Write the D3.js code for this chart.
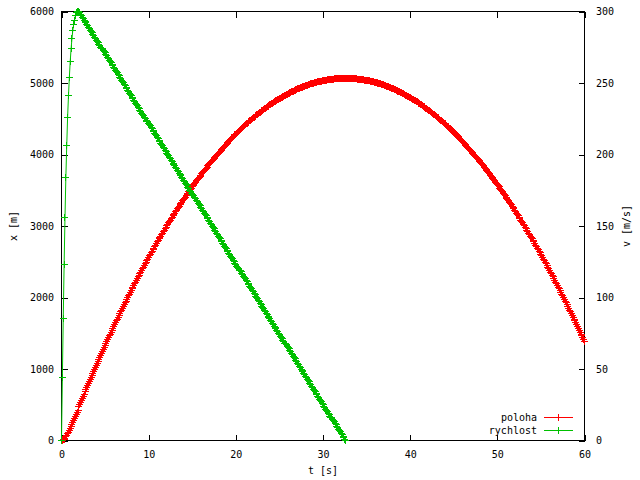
<!DOCTYPE html>
<html><head><meta charset="utf-8">
<script src="https://cdn.jsdelivr.net/npm/d3@7"></script>
<style>
body{margin:0;background:#fff}
svg text{font-family:"DejaVu Sans Mono","Liberation Mono",monospace;font-size:10px;fill:#000}
</style>
</head><body>
<svg id="c" width="640" height="480"></svg>
<script>
// time samples [s]
const time=[0,0.1,0.2,0.3,0.4,0.5,0.6,0.7,0.8,0.9,
1,1.1,1.2,1.3,1.4,1.5,1.6,1.7,1.8,1.9,
2,2.1,2.2,2.3,2.4,2.5,2.6,2.7,2.8,2.9,
3,3.1,3.2,3.3,3.4,3.5,3.6,3.7,3.8,3.9,
4,4.1,4.2,4.3,4.4,4.5,4.6,4.7,4.8,4.9,
5,5.1,5.2,5.3,5.4,5.5,5.6,5.7,5.8,5.9,
6,6.1,6.2,6.3,6.4,6.5,6.6,6.7,6.8,6.9,
7,7.1,7.2,7.3,7.4,7.5,7.6,7.7,7.8,7.9,
8,8.1,8.2,8.3,8.4,8.5,8.6,8.7,8.8,8.9,
9,9.1,9.2,9.3,9.4,9.5,9.6,9.7,9.8,9.9,
10,10.1,10.2,10.3,10.4,10.5,10.6,10.7,10.8,10.9,
11,11.1,11.2,11.3,11.4,11.5,11.6,11.7,11.8,11.9,
12,12.1,12.2,12.3,12.4,12.5,12.6,12.7,12.8,12.9,
13,13.1,13.2,13.3,13.4,13.5,13.6,13.7,13.8,13.9,
14,14.1,14.2,14.3,14.4,14.5,14.6,14.7,14.8,14.9,
15,15.1,15.2,15.3,15.4,15.5,15.6,15.7,15.8,15.9,
16,16.1,16.2,16.3,16.4,16.5,16.6,16.7,16.8,16.9,
17,17.1,17.2,17.3,17.4,17.5,17.6,17.7,17.8,17.9,
18,18.1,18.2,18.3,18.4,18.5,18.6,18.7,18.8,18.9,
19,19.1,19.2,19.3,19.4,19.5,19.6,19.7,19.8,19.9,
20,20.1,20.2,20.3,20.4,20.5,20.6,20.7,20.8,20.9,
21,21.1,21.2,21.3,21.4,21.5,21.6,21.7,21.8,21.9,
22,22.1,22.2,22.3,22.4,22.5,22.6,22.7,22.8,22.9,
23,23.1,23.2,23.3,23.4,23.5,23.6,23.7,23.8,23.9,
24,24.1,24.2,24.3,24.4,24.5,24.6,24.7,24.8,24.9,
25,25.1,25.2,25.3,25.4,25.5,25.6,25.7,25.8,25.9,
26,26.1,26.2,26.3,26.4,26.5,26.6,26.7,26.8,26.9,
27,27.1,27.2,27.3,27.4,27.5,27.6,27.7,27.8,27.9,
28,28.1,28.2,28.3,28.4,28.5,28.6,28.7,28.8,28.9,
29,29.1,29.2,29.3,29.4,29.5,29.6,29.7,29.8,29.9,
30,30.1,30.2,30.3,30.4,30.5,30.6,30.7,30.8,30.9,
31,31.1,31.2,31.3,31.4,31.5,31.6,31.7,31.8,31.9,
32,32.1,32.2,32.3,32.4,32.5,32.6,32.7,32.8,32.9,
33,33.1,33.2,33.3,33.4,33.5,33.6,33.7,33.8,33.9,
34,34.1,34.2,34.3,34.4,34.5,34.6,34.7,34.8,34.9,
35,35.1,35.2,35.3,35.4,35.5,35.6,35.7,35.8,35.9,
36,36.1,36.2,36.3,36.4,36.5,36.6,36.7,36.8,36.9,
37,37.1,37.2,37.3,37.4,37.5,37.6,37.7,37.8,37.9,
38,38.1,38.2,38.3,38.4,38.5,38.6,38.7,38.8,38.9,
39,39.1,39.2,39.3,39.4,39.5,39.6,39.7,39.8,39.9,
40,40.1,40.2,40.3,40.4,40.5,40.6,40.7,40.8,40.9,
41,41.1,41.2,41.3,41.4,41.5,41.6,41.7,41.8,41.9,
42,42.1,42.2,42.3,42.4,42.5,42.6,42.7,42.8,42.9,
43,43.1,43.2,43.3,43.4,43.5,43.6,43.7,43.8,43.9,
44,44.1,44.2,44.3,44.4,44.5,44.6,44.7,44.8,44.9,
45,45.1,45.2,45.3,45.4,45.5,45.6,45.7,45.8,45.9,
46,46.1,46.2,46.3,46.4,46.5,46.6,46.7,46.8,46.9,
47,47.1,47.2,47.3,47.4,47.5,47.6,47.7,47.8,47.9,
48,48.1,48.2,48.3,48.4,48.5,48.6,48.7,48.8,48.9,
49,49.1,49.2,49.3,49.4,49.5,49.6,49.7,49.8,49.9,
50,50.1,50.2,50.3,50.4,50.5,50.6,50.7,50.8,50.9,
51,51.1,51.2,51.3,51.4,51.5,51.6,51.7,51.8,51.9,
52,52.1,52.2,52.3,52.4,52.5,52.6,52.7,52.8,52.9,
53,53.1,53.2,53.3,53.4,53.5,53.6,53.7,53.8,53.9,
54,54.1,54.2,54.3,54.4,54.5,54.6,54.7,54.8,54.9,
55,55.1,55.2,55.3,55.4,55.5,55.6,55.7,55.8,55.9,
56,56.1,56.2,56.3,56.4,56.5,56.6,56.7,56.8,56.9,
57,57.1,57.2,57.3,57.4,57.5,57.6,57.7,57.8,57.9,
58,58.1,58.2,58.3,58.4,58.5,58.6,58.7,58.8,58.9,
59,59.1,59.2,59.3,59.4,59.5,59.6,59.7,59.8,59.9,
60];
// position x [m]
const poloha=[0,2,9,19,33,50,70,91,114,139,
165,192,220,248,277,306,336,366,396,426,
472,502,532,562,591,621,650,680,709,738,
767,796,825,854,883,911,940,968,997,1025,
1053,1081,1109,1137,1164,1192,1219,1247,1274,1301,
1329,1356,1383,1409,1436,1463,1489,1516,1542,1568,
1594,1620,1646,1672,1698,1724,1749,1775,1800,1825,
1850,1876,1900,1925,1950,1975,1999,2024,2048,2073,
2097,2121,2145,2169,2192,2216,2240,2263,2287,2310,
2333,2356,2379,2402,2425,2448,2470,2493,2515,2538,
2560,2582,2604,2626,2648,2669,2691,2713,2734,2755,
2777,2798,2819,2840,2860,2881,2902,2922,2943,2963,
2984,3004,3024,3044,3064,3083,3103,3123,3142,3161,
3181,3200,3219,3238,3257,3276,3294,3313,3331,3350,
3368,3386,3404,3422,3440,3458,3476,3493,3511,3528,
3546,3563,3580,3597,3614,3631,3647,3664,3681,3697,
3713,3730,3746,3762,3778,3794,3809,3825,3841,3856,
3871,3887,3902,3917,3932,3947,3961,3976,3991,4005,
4019,4034,4048,4062,4076,4090,4104,4117,4131,4144,
4158,4171,4184,4197,4210,4223,4236,4249,4261,4274,
4286,4299,4311,4323,4335,4347,4359,4370,4382,4394,
4405,4416,4428,4439,4450,4461,4471,4482,4493,4503,
4514,4524,4534,4545,4555,4565,4574,4584,4594,4603,
4613,4622,4632,4641,4650,4659,4668,4676,4685,4694,
4702,4711,4719,4727,4735,4743,4751,4759,4767,4774,
4782,4789,4796,4804,4811,4818,4825,4831,4838,4845,
4851,4858,4864,4870,4876,4882,4888,4894,4900,4906,
4911,4917,4922,4927,4932,4937,4942,4947,4952,4957,
4961,4966,4970,4974,4978,4983,4987,4990,4994,4998,
5001,5005,5008,5012,5015,5018,5021,5024,5027,5029,
5032,5034,5037,5039,5041,5043,5045,5047,5049,5051,
5052,5054,5055,5057,5058,5059,5060,5061,5062,5063,
5063,5064,5064,5065,5065,5065,5065,
5065,5065,5065,5064,5064,5063,5063,5062,5061,5060,
5059,5058,5057,5055,5054,5052,5051,5049,5047,5045,
5043,5041,5039,5037,5034,5032,5029,5027,5024,5021,
5018,5015,5012,5008,5005,5001,4998,4994,4990,4987,
4983,4978,4974,4970,4966,4961,4957,4952,4947,4942,
4937,4932,4927,4922,4917,4911,4906,4900,4894,4888,
4882,4876,4870,4864,4858,4851,4845,4838,4831,4825,
4818,4811,4804,4796,4789,4782,4774,4767,4759,4751,
4743,4735,4727,4719,4711,4702,4694,4685,4676,4668,
4659,4650,4641,4632,4622,4613,4603,4594,4584,4574,
4565,4555,4545,4534,4524,4514,4503,4493,4482,4471,
4461,4450,4439,4428,4416,4405,4394,4382,4370,4359,
4347,4335,4323,4311,4299,4286,4274,4261,4249,4236,
4223,4210,4197,4184,4171,4158,4144,4131,4117,4104,
4090,4076,4062,4048,4034,4019,4005,3991,3976,3961,
3947,3932,3917,3902,3887,3871,3856,3841,3825,3809,
3794,3778,3762,3746,3730,3713,3697,3681,3664,3647,
3631,3614,3597,3580,3563,3546,3528,3511,3493,3476,
3458,3440,3422,3404,3386,3368,3350,3331,3313,3294,
3276,3257,3238,3219,3200,3181,3161,3142,3123,3103,
3083,3064,3044,3024,3004,2984,2963,2943,2922,2902,
2881,2860,2840,2819,2798,2777,2755,2734,2713,2691,
2669,2648,2626,2604,2582,2560,2538,2515,2493,2470,
2448,2425,2402,2379,2356,2333,2310,2287,2263,2240,
2216,2192,2169,2145,2121,2097,2073,2048,2024,1999,
1975,1950,1925,1900,1876,1850,1825,1800,1775,1749,
1724,1698,1672,1646,1620,1594,1568,1542,1516,1489,
1463,1436,1409,1383];
// velocity v [m/s] (same time samples, up to 32.6 s)
const rychlost=[0,44,85,123,156,184,206,226,241,254,
265,274,281,287,291,294,297,299,300,300,
300,299,298,297,296,295,294,293,292,291,
290,289,288,287,286,285,284,283,282,281,
280,279,278,277,276,275,274,274,273,272,
271,270,269,268,267,266,265,264,263,262,
261,260,259,258,257,256,255,254,253,252,
251,250,249,248,247,246,245,244,243,242,
241,240,239,238,237,236,235,234,233,232,
231,230,229,228,227,226,225,224,223,223,
222,221,220,219,218,217,216,215,214,213,
212,211,210,209,208,207,206,205,204,203,
202,201,200,199,198,197,196,195,194,193,
192,191,190,189,188,187,186,185,184,183,
182,181,180,179,178,177,176,175,174,173,
172,171,171,170,169,168,167,166,165,164,
163,162,161,160,159,158,157,156,155,154,
153,152,151,150,149,148,147,146,145,144,
143,142,141,140,139,138,137,136,135,134,
133,132,131,130,129,128,127,126,125,124,
123,122,121,120,119,119,118,117,116,115,
114,113,112,111,110,109,108,107,106,105,
104,103,102,101,100,99,98,97,96,95,
94,93,92,91,90,89,88,87,86,85,
84,83,82,81,80,79,78,77,76,75,
74,73,72,71,70,69,68,68,67,66,
65,64,63,62,61,60,59,58,57,56,
55,54,53,52,51,50,49,48,47,46,
45,44,43,42,41,40,39,38,37,36,
35,34,33,32,31,30,29,28,27,26,
25,24,23,22,21,20,19,18,17,16,
16,15,14,13,12,11,10,9,8,7,
6,5,4,3,2,1,0];
const xTicks=[0,10,20,30,40,50,60];
const yTicks=[0,1000,2000,3000,4000,5000,6000];
const y2Ticks=[0,50,100,150,200,250,300];
const seriesNames=["poloha","rychlost"];
const seriesColors=["#ff0000","#00c000"];
const xLabel="t [s]", yLabel="x [m]", y2Label="v [m/s]";

const svg=d3.select("#c");
const L=61.5,R=584.5,T=11.5,B=440.5;
const x=d3.scaleLinear().domain([0,60]).range([L,R]);
const y=d3.scaleLinear().domain([0,6000]).range([B,T]);
const y2=d3.scaleLinear().domain([0,300]).range([B,T]);

function styleAxis(g){
  g.attr("font-family",null).attr("font-size",null);
  g.select(".domain").remove();
  g.selectAll("line").attr("stroke","#000").attr("shape-rendering","crispEdges");
  g.selectAll("text").attr("fill","#000");
}
svg.append("g").attr("transform",`translate(0,${B})`)
  .call(d3.axisBottom(x).tickValues(xTicks).tickSizeInner(-6).tickSizeOuter(0).tickPadding(10).tickFormat(d3.format("d")))
  .call(styleAxis);
svg.append("g").attr("transform",`translate(0,${T})`)
  .call(d3.axisTop(x).tickValues(xTicks).tickSizeInner(-6).tickSizeOuter(0).tickFormat(""))
  .call(styleAxis);
svg.append("g").attr("transform",`translate(${L},0)`)
  .call(d3.axisLeft(y).tickValues(yTicks).tickSizeInner(-6).tickSizeOuter(0).tickPadding(7.5).tickFormat(d3.format("d")))
  .call(styleAxis);
svg.append("g").attr("transform",`translate(${R},0)`)
  .call(d3.axisRight(y2).tickValues(y2Ticks).tickSizeInner(-6).tickSizeOuter(0).tickPadding(11.5).tickFormat(d3.format("d")))
  .call(styleAxis);

svg.append("rect").attr("x",L).attr("y",T).attr("width",R-L).attr("height",B-T)
  .attr("fill","none").attr("stroke","#000").attr("shape-rendering","crispEdges");

svg.append("text").attr("x",323).attr("y",474).attr("text-anchor","middle").text(xLabel);
svg.append("text").attr("transform","translate(17,226) rotate(-90)").attr("text-anchor","middle").text(yLabel);
svg.append("text").attr("transform","translate(630,226) rotate(-90)").attr("text-anchor","middle").text(y2Label);

const series=[
  {name:seriesNames[0],color:seriesColors[0],pts:poloha.map((v,i)=>[x(time[i]),y(v)])},
  {name:seriesNames[1],color:seriesColors[1],pts:rychlost.map((v,i)=>[x(time[i]),y2(v)])}
];
function plusPath(pts){
  return pts.map(([px,py])=>{
    const cx=Math.round(px-0.5)+0.5, cy=Math.round(py-0.5)+0.5;
    return `M${cx-3.5},${cy}h7M${cx},${cy-3.5}v7`;
  }).join("");
}
series.forEach(s=>{
  svg.append("path").attr("d",d3.line()(s.pts)).attr("fill","none").attr("stroke",s.color).attr("stroke-width",1);
  svg.append("path").attr("d",plusPath(s.pts)).attr("fill","none").attr("stroke",s.color).attr("stroke-width",1).attr("shape-rendering","crispEdges");
});

// legend
series.forEach((s,i)=>{
  const ly=417.5+13*i;
  svg.append("text").attr("x",537).attr("y",ly+3.5).attr("text-anchor","end").text(s.name);
  svg.append("line").attr("x1",544).attr("x2",573).attr("y1",ly).attr("y2",ly).attr("stroke",s.color).attr("shape-rendering","crispEdges");
  svg.append("path").attr("d",plusPath([[558.5,ly]])).attr("stroke",s.color).attr("fill","none").attr("shape-rendering","crispEdges");
});
</script>
</body></html>
